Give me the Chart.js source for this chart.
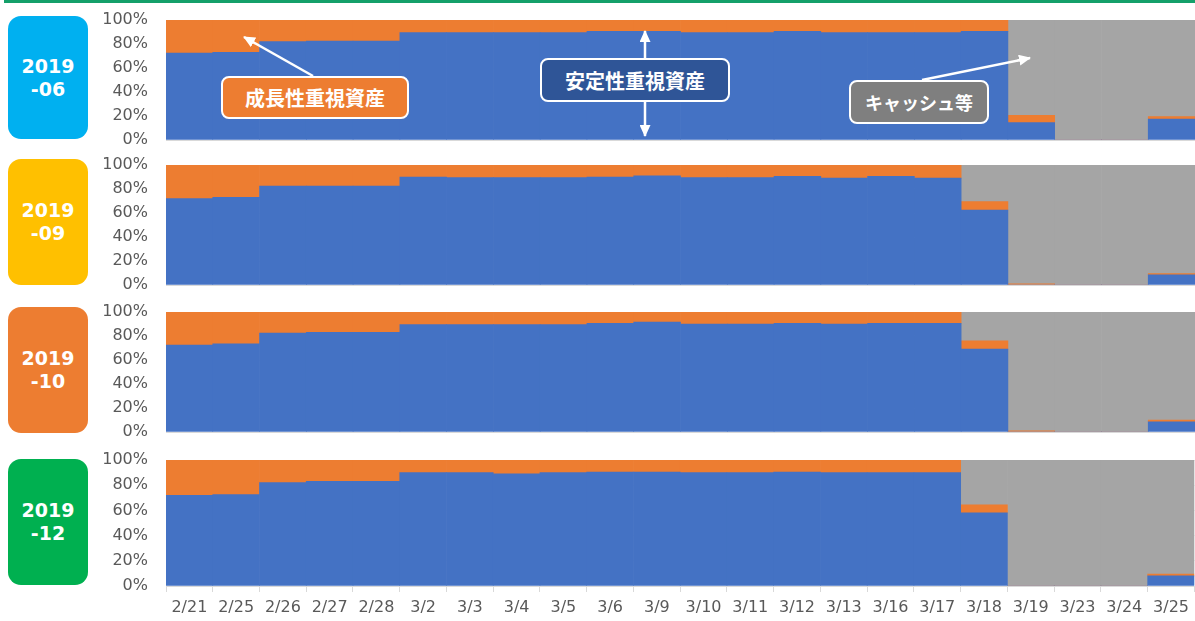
<!DOCTYPE html>
<html>
<head>
<meta charset="utf-8">
<script src="https://cdn.jsdelivr.net/npm/chart.js@4/dist/chart.umd.min.js"></script>
<style>
  body { margin: 0; background: #fff; width: 1195px; height: 621px; overflow: hidden; position: relative; }
  canvas { position: absolute; left: 90px; }
  .topline { position: absolute; left: 4px; top: 0; width: 1191px; height: 3px; background: #14a06a; }
  .badge { position: absolute; left: 8px; width: 80px; border-radius: 13px; color: #fff;
    font: bold 19px "DejaVu Sans", sans-serif; line-height: 23px; display: flex;
    align-items: center; justify-content: center; text-align: center; }
  .note { position: absolute; box-sizing: border-box; border: 2px solid #fff; border-radius: 8px; color: #fff;
    font-family: "Noto Sans CJK JP", sans-serif; font-weight: bold; display: flex;
    align-items: center; justify-content: center; z-index: 3; }
  svg { position: absolute; left: 0; top: 0; z-index: 2; }
</style>
</head>
<body>
<div class="topline"></div>

<div class="badge" style="top:16px;height:123px;background:#00b0f0">2019<br>-06</div>
<div class="badge" style="top:159px;height:126px;background:#ffc000">2019<br>-09</div>
<div class="badge" style="top:307px;height:126px;background:#ed7d31">2019<br>-10</div>
<div class="badge" style="top:459px;height:126px;background:#00b050">2019<br>-12</div>

<canvas id="c06" width="1105" height="144" style="top:8px"></canvas>
<canvas id="c09" width="1105" height="144" style="top:153px"></canvas>
<canvas id="c10" width="1105" height="144" style="top:300px"></canvas>
<canvas id="c12" width="1105" height="171" style="top:448px"></canvas>

<svg width="1195" height="621">
  <defs>
    <marker id="ah" markerWidth="12" markerHeight="11" refX="11" refY="5.5" orient="auto" markerUnits="userSpaceOnUse">
      <path d="M0,0 L12,5.5 L0,11 z" fill="#fff"/>
    </marker>
  </defs>
  <g stroke="#fff" stroke-width="2.5" fill="none">
    <path d="M313,76 L244,37" marker-end="url(#ah)"/>
    <path d="M645,58 L645,31" marker-end="url(#ah)"/>
    <path d="M645,102 L645,136" marker-end="url(#ah)"/>
    <path d="M922,80 L1030,58" marker-end="url(#ah)"/>
  </g>
</svg>

<div class="note" style="left:221px;top:76px;width:188px;height:43px;background:#ed7d31;font-size:20px">成長性重視資産</div>
<div class="note" style="left:540px;top:58px;width:190px;height:44px;background:#2f5597;font-size:20px">安定性重視資産</div>
<div class="note" style="left:849px;top:80px;width:140px;height:44px;background:#7f7f7f;font-size:18px">キャッシュ等</div>

<script>
// Dates (x categories)
const dates = ['2/21', '2/25', '2/26', '2/27', '2/28', '3/2', '3/3', '3/4', '3/5', '3/6', '3/9',
  '3/10', '3/11', '3/12', '3/13', '3/16', '3/17', '3/18', '3/19', '3/23', '3/24', '3/25']

const yTicks = [0, 20, 40, 60, 80, 100]

// 2019-06
const stable06 = [72.5, 73, 82, 82.5, 82.5, 89.5, 89.5, 89.5, 89.5, 90.5, 90.5, 89.5, 89.5, 90.5, 89.5, 89.5, 89.5, 90.5, 14.5, 0, 0, 17.5]
const growth06 = [27.5, 27, 18, 17.5, 17.5, 10.5, 10.5, 10.5, 10.5, 9.5, 9.5, 10.5, 10.5, 9.5, 10.5, 10.5, 10.5, 9.5, 6, 0, 0, 2]
const cash06 = [0, 0, 0, 0, 0, 0, 0, 0, 0, 0, 0, 0, 0, 0, 0, 0, 0, 0, 79.5, 100, 100, 80.5]

// 2019-09
const stable09 = [72, 73, 82.5, 82.5, 82.5, 90, 89.5, 89.5, 89.5, 90, 91, 89.5, 89.5, 90.5, 89, 90.5, 89, 62.5, 0, 0, 0, 8.5]
const growth09 = [28, 27, 17.5, 17.5, 17.5, 10, 10.5, 10.5, 10.5, 10, 9, 10.5, 10.5, 9.5, 11, 9.5, 11, 7, 1, 0, 0, 1]
const cash09 = [0, 0, 0, 0, 0, 0, 0, 0, 0, 0, 0, 0, 0, 0, 0, 0, 0, 30.5, 99, 100, 100, 90.5]

// 2019-10
const stable10 = [72.5, 73.5, 82.5, 83, 83, 89.5, 89.5, 89.5, 89.5, 90.5, 91.5, 90, 90, 90.5, 90, 90.5, 90.5, 69, 0, 0, 0, 8.5]
const growth10 = [27.5, 26.5, 17.5, 17, 17, 10.5, 10.5, 10.5, 10.5, 9.5, 8.5, 10, 10, 9.5, 10, 9.5, 9.5, 7, 1, 0, 0, 1.5]
const cash10 = [0, 0, 0, 0, 0, 0, 0, 0, 0, 0, 0, 0, 0, 0, 0, 0, 0, 24, 99, 100, 100, 90]

// 2019-12
const stable12 = [72, 72.5, 82, 83, 83, 90, 90, 89, 90, 90.5, 90.5, 90, 90, 90.5, 90, 90, 90, 58, 0, 0, 0, 8]
const growth12 = [28, 27.5, 18, 17, 17, 10, 10, 11, 10, 9.5, 9.5, 10, 10, 9.5, 10, 10, 10, 6.5, 0, 0, 0, 1.5]
const cash12 = [0, 0, 0, 0, 0, 0, 0, 0, 0, 0, 0, 0, 0, 0, 0, 0, 0, 35.5, 100, 100, 100, 90.5]

const BLUE = '#4472c4'
const ORANGE = '#ed7d31'
const GREY = '#a5a5a5'

const makePanel = (id, stable, growth, cash, showDates) => {
    const ds = (label, data, color) => ({
        label: label,
        data: data,
        backgroundColor: color,
        borderWidth: 0,
        categoryPercentage: 1,
        barPercentage: 1,
        stack: 'a',
    })

    return new Chart(document.getElementById(id), {
        type: 'bar',
        data: {
            labels: dates,
            datasets: [
                ds('安定性重視資産', stable, BLUE),
                ds('成長性重視資産', growth, ORANGE),
                ds('キャッシュ等', cash, GREY),
            ],
        },
        options: {
            responsive: false,
            animation: false,
            layout: { padding: { top: 12, bottom: showDates ? 0 : 12, left: 0, right: 0 } },
            plugins: { legend: { display: false }, tooltip: { enabled: false } },
            scales: {
                x: {
                    stacked: true,
                    border: { color: '#d9d9d9' },
                    grid: { drawOnChartArea: false, drawTicks: showDates, tickLength: 6, color: '#d9d9d9' },
                    ticks: {
                        display: showDates, autoSkip: false, maxRotation: 0, padding: 6,
                        color: '#595959', font: { family: 'DejaVu Sans', size: 16 },
                    },
                    afterFit: (scale) => { scale.height = showDates ? 33 : 0 },
                },
                y: {
                    stacked: true,
                    min: 0,
                    max: 100,
                    border: { display: false },
                    // invisible tick marks push the labels left without adding vertical padding
                    grid: { color: '#d9d9d9', drawTicks: true, tickLength: 18, tickColor: 'rgba(0,0,0,0)' },
                    afterBuildTicks: (scale) => { scale.ticks = yTicks.map(v => ({ value: v })) },
                    ticks: {
                        autoSkip: false,
                        padding: 0,
                        color: '#595959',
                        font: { family: 'DejaVu Sans', size: 16 },
                        callback: (v) => v + '%',
                    },
                    afterFit: (scale) => { scale.width = 76 },
                },
            },
        },
    })
}

makePanel('c06', stable06, growth06, cash06, false)
makePanel('c09', stable09, growth09, cash09, false)
makePanel('c10', stable10, growth10, cash10, false)
makePanel('c12', stable12, growth12, cash12, true)
</script>
</body>
</html>
